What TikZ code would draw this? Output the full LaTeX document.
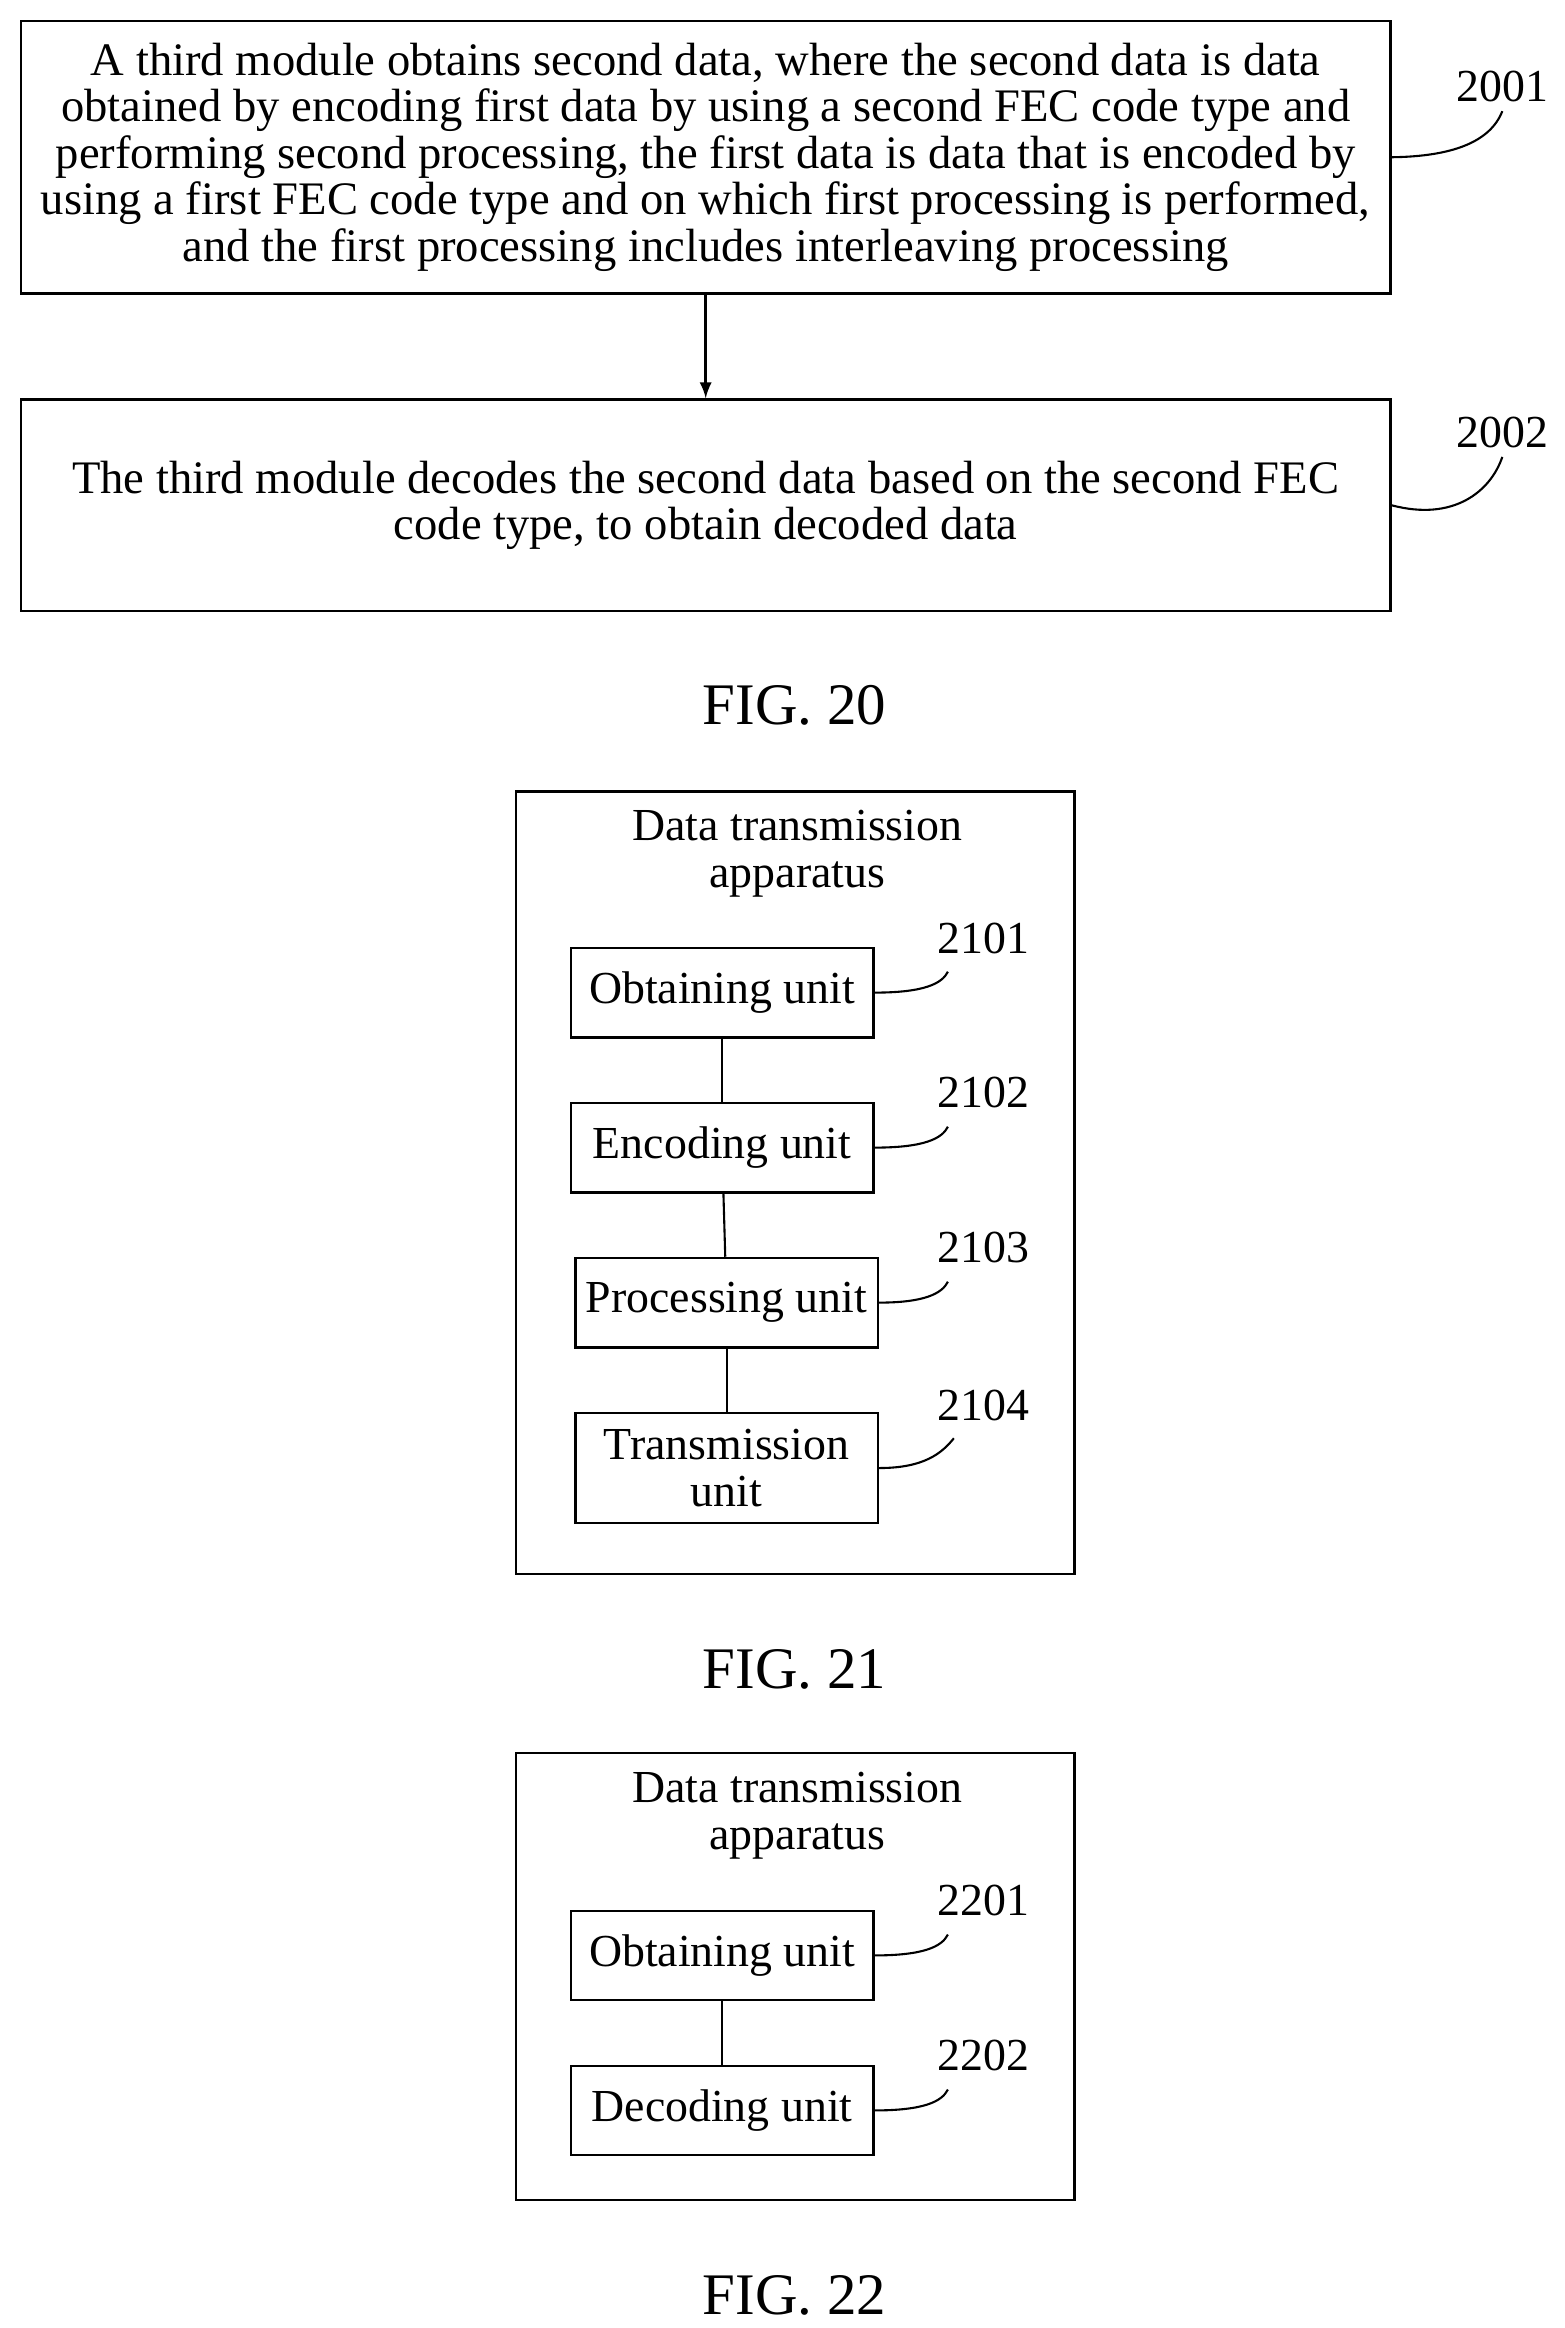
\documentclass[tikz,border=0pt]{standalone}
\usepackage{fontspec}
\setmainfont{Liberation Serif}
\begin{document}
\begin{tikzpicture}[x=0.02cm,y=-0.02cm,
  stepbox/.style={draw, line width=0.9pt, minimum width=18.38cm, align=center, inner xsep=2pt, font=\fontsize{17.8}{17.8}\selectfont},
  unit/.style={draw, line width=0.9pt, minimum width=4.06cm, minimum height=1.2cm, inner sep=1pt, align=center, font=\fontsize{17.5}{18}\selectfont},
  frame/.style={draw, line width=0.9pt, minimum width=7.5cm},
  lbl/.style={font=\fontsize{17.5}{18}\selectfont},
  fig/.style={font=\fontsize{22.5}{26}\selectfont},
  lead/.style={line width=0.8pt}]
\useasboundingbox (0,0) rectangle (1050,1562);
% FIG. 20
\node[stepbox, minimum height=3.66cm] (s1) at (473.5,105.5) {A third module obtains second data, where the second data is data\\obtained by encoding first data by using a second FEC code type and\\performing second processing, the first data is data that is encoded by\\using a first FEC code type and on which first processing is performed,\\and the first processing includes interleaving processing};
\node[stepbox, minimum height=2.84cm] (s2) at (473.5,339) {The third module decodes the second data based on the second FEC\\code type, to obtain decoded data};
\draw[-latex, line width=1.1pt] (s1) -- (s2);
\node[lbl] (l2001) at (1008,58) {2001};
\node[lbl] (l2002) at (1008,290) {2002};
\draw[lead] (s1.east) .. controls (975,105) and (1000,95) .. (l2001.south);
\draw[lead] (s2.east) .. controls (975,350) and (1000,330) .. (l2002.south);
\node[fig] (f20) at (533,473) {FIG. 20};
% FIG. 21
\node[frame, minimum height=10.5cm] (a21) at (533.5,793.5) {};
\node[lbl, align=center] (t21) at (535,573) {Data transmission\\apparatus};
\node[unit] (u1) at (484.5,666) {Obtaining unit};
\node[unit] (u2) at (484.5,770) {Encoding unit};
\node[unit] (u3) at (487.5,874) {Processing unit};
\node[unit, minimum height=1.48cm] (u4) at (487.5,985) {Transmission\\unit};
\draw[lead] (u1) -- (u2);
\draw[lead] (u2) -- (u3);
\draw[lead] (u3) -- (u4);
\node[lbl] (l2101) at (660,630) {2101};
\node[lbl] (l2102) at (660,733) {2102};
\node[lbl] (l2103) at (660,837) {2103};
\node[lbl] (l2104) at (660,943) {2104};
\draw[lead] (u1.east) .. controls (620,666) and (632,660) .. (636,652);
\draw[lead] (u2.east) .. controls (620,770) and (632,764) .. (636,756);
\draw[lead] (u3.east) .. controls (620,874) and (632,868) .. (636,860);
\draw[lead] (u4.east) .. controls (620,985) and (632,975) .. (640,965);
\node[fig] (f21) at (533,1120) {FIG. 21};
% FIG. 22
\node[frame, minimum height=6cm] (a22) at (533.5,1326) {};
\node[lbl, align=center] (t22) at (535,1218) {Data transmission\\apparatus};
\node[unit] (v1) at (484.5,1312) {Obtaining unit};
\node[unit] (v2) at (484.5,1416) {Decoding unit};
\draw[lead] (v1) -- (v2);
\node[lbl] (l2201) at (660,1275) {2201};
\node[lbl] (l2202) at (660,1379) {2202};
\draw[lead] (v1.east) .. controls (620,1312) and (632,1306) .. (636,1298);
\draw[lead] (v2.east) .. controls (620,1416) and (632,1410) .. (636,1402);
\node[fig] (f22) at (533,1540) {FIG. 22};
\end{tikzpicture}
\end{document}
